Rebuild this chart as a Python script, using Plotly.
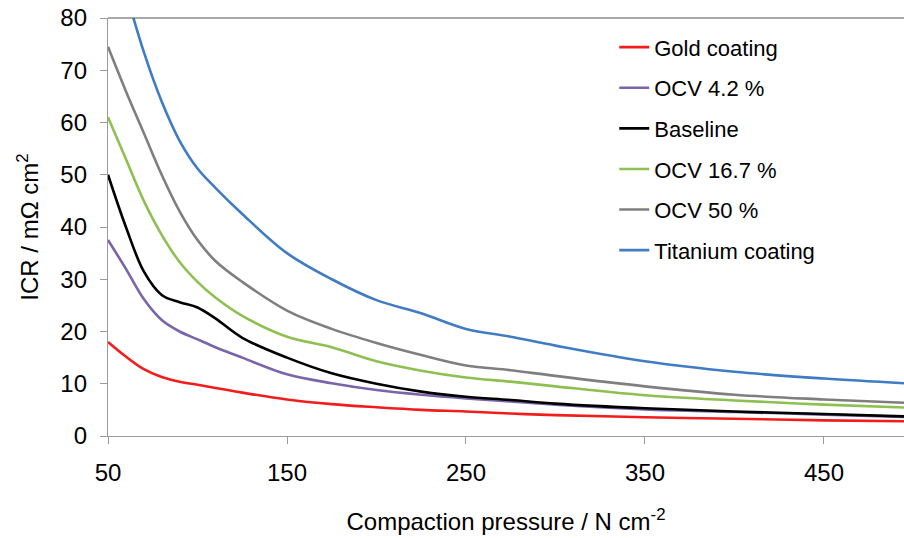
import plotly.graph_objects as go

pressure = [50, 60, 70, 80, 90, 100, 110, 125, 150, 175, 200, 225, 250, 275, 300, 350, 400, 450, 500]

gold_coating = [18, 15.2, 12.8, 11.3, 10.4, 9.8, 9.2, 8.3, 7.0, 6.1, 5.5, 5.0, 4.7, 4.3, 4.0, 3.6, 3.3, 3.0, 2.8]
ocv_4_2 = [37.5, 32, 26.2, 22.2, 20, 18.5, 17, 15, 11.8, 10.1, 8.8, 7.9, 7.2, 6.6, 6.0, 5.1, 4.6, 4.1, 3.6]
baseline = [50, 40, 31.5, 27, 25.6, 24.6, 22.5, 18.8, 15, 12, 10, 8.5, 7.5, 6.9, 6.2, 5.3, 4.7, 4.2, 3.7]
ocv_16_7 = [61, 53, 45, 38.5, 33.3, 29.5, 26.5, 23, 19, 17, 14.3, 12.5, 11.2, 10.4, 9.5, 7.8, 6.8, 6.0, 5.4]
ocv_50 = [74.5, 66, 58, 50, 43, 37.5, 33.5, 29.5, 24, 20.5, 17.8, 15.5, 13.5, 12.6, 11.5, 9.5, 7.9, 7.0, 6.3]
titanium_coating = [97, 85, 73.5, 64, 56.5, 51.2, 47.5, 42.5, 35, 30, 26, 23.5, 20.5, 19, 17.3, 14.3, 12.3, 11, 10]

series_names = ["Gold coating", "OCV 4.2 %", "Baseline", "OCV 16.7 %", "OCV 50 %", "Titanium coating"]
series_values = [gold_coating, ocv_4_2, baseline, ocv_16_7, ocv_50, titanium_coating]
series_colors = ["#F21C1C", "#7B64AA", "#000000", "#8DC050", "#7F7F7F", "#3F7CC4"]

x_ticks = [50, 150, 250, 350, 450]
y_ticks = [0, 10, 20, 30, 40, 50, 60, 70, 80]

FONT = "Liberation Sans, Arial, sans-serif"

fig = go.Figure()
for i, (name, vals, col) in enumerate(zip(series_names, series_values, series_colors)):
    fig.add_trace(go.Scatter(
        x=pressure, y=vals, name=name, mode="lines",
        line=dict(color=col, width=2.6, shape="spline", smoothing=1.0),
        legendgroup=f"g{i}",
    ))

fig.update_layout(
    width=904, height=538,
    margin=dict(l=108, r=0, t=18, b=102),
    paper_bgcolor="white", plot_bgcolor="white",
    font=dict(family=FONT, size=24, color="#000000"),
    showlegend=True,
    legend=dict(
        x=0.636, y=0.98, xanchor="left", yanchor="top",
        font=dict(family=FONT, size=22, color="#000000"),
        bgcolor="rgba(0,0,0,0)", borderwidth=0,
        tracegroupgap=9, itemwidth=30, traceorder="grouped",
    ),
    xaxis=dict(
        range=[50, 494.7], tickvals=x_ticks, ticktext=[str(v) for v in x_ticks],
        showgrid=False, zeroline=False,
        showline=True, linecolor="#9a9a9a", linewidth=1.3,
        ticks="outside", ticklen=7, tickcolor="#9a9a9a", tickwidth=1.3,
        tickfont=dict(family=FONT, size=24, color="#000000"),
        ticklabelstandoff=8,
        title=dict(text="Compaction pressure / N cm<sup>-2</sup>",
                   font=dict(family=FONT, size=24, color="#000000"), standoff=28),
    ),
    yaxis=dict(
        range=[0, 80], tickvals=y_ticks, ticktext=[str(v) for v in y_ticks],
        showgrid=False, zeroline=False,
        showline=True, linecolor="#9a9a9a", linewidth=1.3,
        ticks="outside", ticklen=7, tickcolor="#9a9a9a", tickwidth=1.3,
        tickfont=dict(family=FONT, size=24, color="#000000"),
        ticklabelstandoff=8,
        title=dict(text="ICR / mΩ cm<sup>2</sup>",
                   font=dict(family=FONT, size=24, color="#000000"), standoff=14),
    ),
    shapes=[dict(type="line", xref="paper", yref="paper", x0=0, x1=1, y0=1, y1=1,
                 line=dict(color="#555555", width=1.2))],
)

fig.write_html("out.html")
